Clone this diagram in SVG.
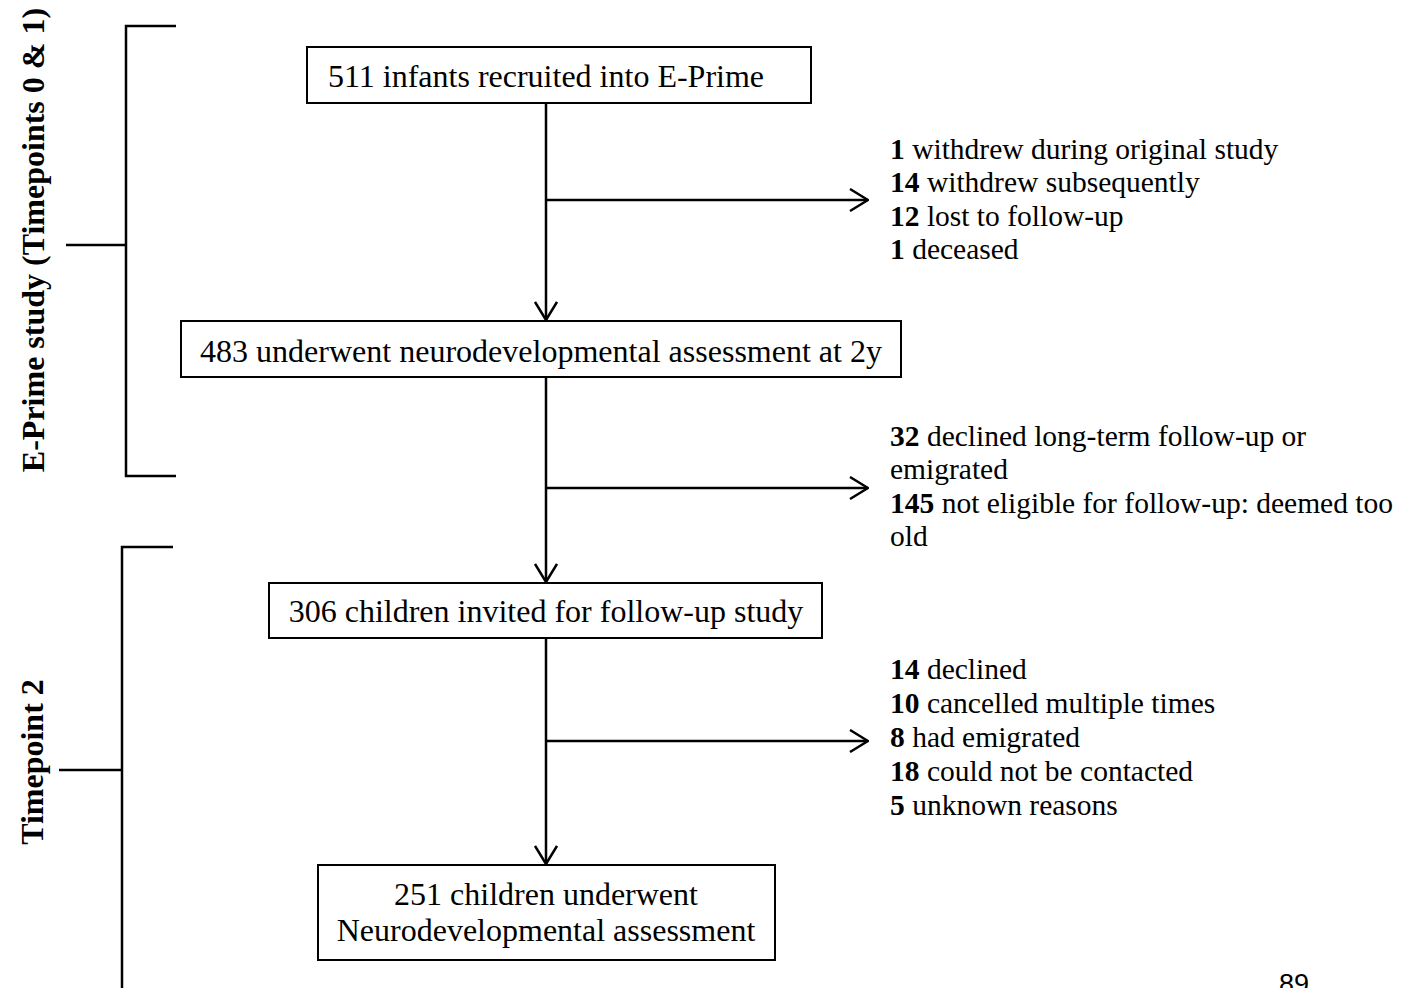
<svg xmlns="http://www.w3.org/2000/svg" width="1407" height="988" viewBox="0 0 1407 988">
<defs>
<style>
text{font-family:"Liberation Serif","Times New Roman",serif;fill:#000}
.t{font-size:32px}
.s{font-size:29.5px}
.c{text-anchor:middle}
.b{font-weight:bold}
.lab{font-size:32px;font-weight:bold;text-anchor:middle}
.box{fill:#fff;stroke:#000;stroke-width:2}
.ln{stroke:#000;stroke-width:2.5;fill:none}
.br{stroke:#000;stroke-width:2.5;fill:none}
</style>
<marker id="ah" viewBox="0 0 20 24" refX="19" refY="12" markerWidth="20" markerHeight="24" markerUnits="userSpaceOnUse" orient="auto">
<path d="M1,1 L19,12 L1,23" fill="none" stroke="#000" stroke-width="2.5"/>
</marker>
</defs>
<rect width="1407" height="988" fill="#fff"/>

<g id="bracket1">
<path class="br" d="M176,26 H126 V476 H176 M66,245 H126"/>
<text class="lab" transform="translate(44,240) rotate(-90)">E-Prime study (Timepoints 0 &amp; 1)</text>
</g>
<g id="bracket2">
<path class="br" d="M173,547 H122 V988 M59,770 H121"/>
<text class="lab" transform="translate(43,762) rotate(-90)">Timepoint 2</text>
</g>

<g id="connectors">
<line class="ln" x1="546" y1="103" x2="546" y2="320" marker-end="url(#ah)"/>
<line class="ln" x1="546" y1="200" x2="868" y2="200" marker-end="url(#ah)"/>
<line class="ln" x1="546" y1="377" x2="546" y2="582" marker-end="url(#ah)"/>
<line class="ln" x1="546" y1="488" x2="868" y2="488" marker-end="url(#ah)"/>
<line class="ln" x1="546" y1="638" x2="546" y2="864" marker-end="url(#ah)"/>
<line class="ln" x1="546" y1="741" x2="868" y2="741" marker-end="url(#ah)"/>
</g>

<g id="n1">
<rect class="box" x="307" y="47" width="504" height="56"/>
<text class="t c" x="546" y="87">511 infants recruited into E-Prime</text>
</g>
<g id="n2">
<rect class="box" x="181" y="321" width="720" height="56"/>
<text class="t c" x="541" y="362" textLength="682" lengthAdjust="spacingAndGlyphs">483 underwent neurodevelopmental assessment at 2y</text>
</g>
<g id="n3">
<rect class="box" x="269" y="583" width="553" height="55"/>
<text class="t c" x="546" y="622">306 children invited for follow-up study</text>
</g>
<g id="n4">
<rect class="box" x="318" y="865" width="457" height="95"/>
<text class="t c" x="546" y="905">251 children underwent</text>
<text class="t c" x="546" y="941">Neurodevelopmental assessment</text>
</g>

<g id="ex1" class="s">
<text x="890" y="159"><tspan class="b">1</tspan> withdrew during original study</text>
<text x="890" y="192"><tspan class="b">14</tspan> withdrew subsequently</text>
<text x="890" y="226"><tspan class="b">12</tspan> lost to follow-up</text>
<text x="890" y="259"><tspan class="b">1</tspan> deceased</text>
</g>
<g id="ex2" class="s">
<text x="890" y="446"><tspan class="b">32</tspan> declined long-term follow-up or</text>
<text x="890" y="479">emigrated</text>
<text x="890" y="513"><tspan class="b">145</tspan> not eligible for follow-up: deemed too</text>
<text x="890" y="546">old</text>
</g>
<g id="ex3" class="s">
<text x="890" y="679"><tspan class="b">14</tspan> declined</text>
<text x="890" y="713"><tspan class="b">10</tspan> cancelled multiple times</text>
<text x="890" y="747"><tspan class="b">8</tspan> had emigrated</text>
<text x="890" y="781"><tspan class="b">18</tspan> could not be contacted</text>
<text x="890" y="815"><tspan class="b">5</tspan> unknown reasons</text>
</g>

<text x="1279" y="993" style="font-family:'Liberation Sans',Arial,sans-serif;font-size:27px">89</text>
</svg>
